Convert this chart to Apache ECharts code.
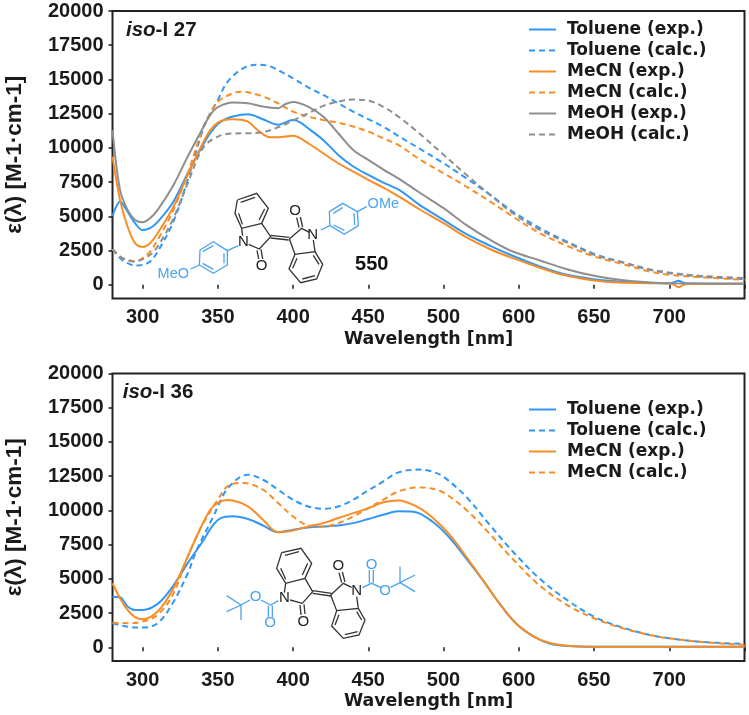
<!DOCTYPE html>
<html><head><meta charset="utf-8">
<style>html,body{margin:0;padding:0;background:#fff}#c{width:749px;height:715px}</style>
<script src="https://cdn.jsdelivr.net/npm/echarts@6/dist/echarts.min.js"></script></head>
<body><div id="c"></div>
<script>
// Axis ticks and the labels printed under them (the reference skips 550 in its labels)
const xTicks = [300,350,400,450,500,550,600,650,700];
const xTickLabels = ['300','350','400','450','500','600','650','700',''];
const yTicks = [0,2500,5000,7500,10000,12500,15000,17500,20000];
const legend27 = ['Toluene (exp.)','Toluene (calc.)','MeCN (exp.)','MeCN (calc.)','MeOH (exp.)','MeOH (calc.)'];
const legend36 = ['Toluene (exp.)','Toluene (calc.)','MeCN (exp.)','MeCN (calc.)'];

// iso-I 27
const tolExp27 = [[280,5000],[282,5600],[285,6080],[288,5700],[290,5350],[295,4500],[300,4000],[305,4140],[310,4600],[320,6000],[330,8150],[340,10200],[345,11100],[350,11750],[355,12100],[360,12300],[370,12450],[380,12090],[390,11700],[400,12040],[405,11850],[410,11430],[420,10580],[430,9490],[440,8640],[450,8030],[460,7470],[471,6900],[484,5840],[500,4740],[515,3720],[531,2850],[546,2120],[564,1340],[582,730],[600,410],[617,240],[637,150],[650,120],[653,180],[656,290],[659,180],[662,90],[699,70]];
const tolCalc27 = [[280,2600],[285,1950],[290,1580],[295,1410],[300,1460],[305,1700],[310,2430],[320,4500],[330,7660],[340,11310],[345,12530],[350,13500],[355,14600],[360,15250],[365,15690],[370,15980],[378,16080],[385,15950],[390,15690],[400,15080],[410,14430],[420,13870],[430,13260],[440,12650],[450,12100],[460,11550],[471,10800],[484,9950],[500,8880],[515,7790],[531,6570],[546,5350],[564,4140],[582,3160],[600,2260],[617,1700],[637,1090],[650,850],[670,610],[700,410]];
const mecnExp27 = [[280,9370],[285,6200],[290,4260],[295,3040],[300,2770],[305,3040],[310,3770],[320,5600],[330,8030],[340,10340],[345,11300],[350,11850],[355,12050],[360,12090],[370,11920],[375,11440],[380,11000],[385,10780],[390,10780],[400,10880],[410,10340],[420,9610],[430,8880],[440,8270],[450,7660],[460,7100],[471,6400],[484,5520],[500,4500],[515,3480],[531,2600],[546,1950],[564,1250],[579,730],[600,320],[617,170],[637,120],[650,100],[653,20],[656,-170],[659,-20],[662,60],[699,70]];
const mecnCalc27 = [[280,2600],[285,2070],[290,1820],[295,1700],[300,1950],[305,2430],[310,3280],[320,5350],[330,8150],[340,11440],[345,12530],[350,13380],[360,13990],[365,14110],[370,14060],[380,13750],[390,13260],[400,12650],[410,12290],[420,12040],[430,11850],[440,11560],[450,11190],[460,10700],[471,10150],[484,9170],[500,8150],[515,7180],[531,6080],[546,4990],[564,3770],[582,2850],[600,2070],[617,1580],[637,970],[650,730],[670,560],[700,365]];
const meohExp27 = [[280,11300],[285,6930],[290,5470],[295,4740],[300,4570],[305,4870],[310,5470],[320,7180],[330,9370],[340,11440],[345,12410],[350,12970],[360,13310],[370,13260],[380,13020],[390,12900],[395,13210],[400,13360],[410,13020],[420,12290],[430,11070],[440,9850],[450,9120],[460,8420],[471,7700],[484,6740],[500,5600],[515,4380],[531,3280],[546,2430],[564,1780],[582,1140],[600,660],[617,365],[637,170],[650,120],[699,70]];
const meohCalc27 = [[280,2600],[285,2070],[290,1780],[295,1700],[300,1870],[305,2190],[310,2800],[320,4740],[330,7420],[340,9980],[350,10830],[360,11050],[370,11070],[380,11140],[390,11510],[400,12000],[410,12530],[420,13070],[430,13380],[440,13530],[450,13450],[460,13000],[471,12200],[484,11050],[500,9500],[515,8050],[531,6570],[546,5230],[564,4010],[582,3090],[600,2190],[617,1700],[637,1140],[650,900],[670,660],[700,490]];

// iso-I 36
const tolExp36 = [[280,3700],[285,3660],[290,2980],[295,2730],[300,2730],[310,3170],[320,4440],[330,6150],[340,7750],[345,8650],[350,9300],[355,9540],[360,9570],[370,9370],[380,8900],[390,8410],[400,8590],[410,8760],[420,8830],[430,8900],[440,9070],[450,9370],[460,9680],[470,9930],[480,9900],[493,9150],[504,8000],[515,6500],[526,4930],[537,3220],[548,1760],[560,780],[571,260],[582,100],[600,50],[700,50]];
const tolCalc36 = [[280,1760],[290,1510],[300,1440],[310,1760],[320,3220],[330,5410],[336,7120],[347,9560],[350,10290],[355,11390],[360,12000],[365,12450],[370,12610],[380,12240],[390,11510],[400,10780],[410,10290],[420,10120],[430,10290],[440,10780],[450,11460],[460,12120],[470,12780],[484,12980],[492,12850],[500,12450],[515,11000],[531,8900],[546,7000],[564,5000],[582,3460],[600,2240],[617,1510],[637,900],[650,660],[670,410],[700,240]];
const mecnExp36 = [[280,4680],[285,3590],[290,2730],[295,2200],[300,2050],[310,2610],[320,4200],[330,6630],[338,8590],[345,10050],[350,10550],[356,10760],[360,10730],[370,10290],[380,9320],[390,8410],[400,8540],[410,8830],[420,9070],[430,9440],[440,9800],[450,10170],[460,10590],[470,10730],[482,10290],[493,9440],[504,8220],[515,6630],[526,4930],[537,3220],[548,1760],[560,780],[571,290],[582,120],[600,50],[700,50]];
const mecnCalc36 = [[280,1800],[290,1760],[300,1880],[310,2370],[320,3830],[330,6630],[338,8590],[347,10290],[350,10780],[355,11630],[360,11950],[367,12000],[380,11510],[390,10540],[400,9560],[410,8900],[420,8830],[430,9070],[440,9560],[450,10170],[460,10780],[470,11390],[484,11680],[492,11600],[500,11300],[515,10050],[531,8250],[546,6450],[564,4500],[582,3100],[600,2120],[617,1460],[637,900],[650,660],[670,410],[700,170]];

const BLUE='#2F97F7', ORANGE='#FA8C25', GREY='#8E8E8E';
const INK='#1a1a1a', BOND='#333333', CHEMBLUE='#4BA3F2';
const ARIAL='"Liberation Sans",Arial,sans-serif', DEJAVU='"DejaVu Sans",sans-serif';

function line(name,data,color,dashed,idx){
  return {name,type:'line',data,xAxisIndex:idx,yAxisIndex:idx,symbol:'none',smooth:0.35,z:3,
    lineStyle:{color,width:2,type:dashed?[6,4]:'solid'},itemStyle:{color},emphasis:{disabled:true}};
}
function xAxis(i){return {gridIndex:i,type:'value',min:280,max:700,
  name:'Wavelength [nm]',nameLocation:'middle',nameGap:32,
  nameTextStyle:{fontFamily:DEJAVU,fontWeight:'bold',fontSize:17.4,color:INK},
  axisLine:{show:false},splitLine:{show:false},
  axisTick:{show:true,length:4,customValues:xTicks,lineStyle:{color:INK,width:1.5}},
  axisLabel:{customValues:xTicks,margin:9,fontFamily:ARIAL,fontWeight:'bold',fontSize:20,color:INK,
    formatter:v=>xTickLabels[xTicks.indexOf(v)]}};}
function yAxis(i){return {gridIndex:i,type:'value',min:-1000,max:20000,
  name:'ε(λ) [M-1·cm-1]',nameLocation:'middle',nameGap:86,nameRotate:90,
  nameTextStyle:{fontFamily:ARIAL,fontWeight:'bold',fontSize:22.5,color:INK},
  axisLine:{show:false},splitLine:{show:false},
  axisTick:{show:true,length:4,customValues:yTicks,lineStyle:{color:INK,width:1.5}},
  axisLabel:{customValues:yTicks,margin:9,fontFamily:ARIAL,fontWeight:'bold',fontSize:20,color:INK,
    formatter:v=>String(v)}};}
function legend(data,top){return {data,orient:'vertical',left:528,top,itemWidth:27,itemHeight:14,itemGap:4,
  selectedMode:false,padding:0,itemStyle:{color:'transparent',borderWidth:0},
  textStyle:{fontFamily:DEJAVU,fontWeight:'bold',fontSize:17,color:INK,padding:[0,0,0,6]}};}

// Structure drawings: bond paths in each crop's local units, mapped to the page
function bonds(list,ox,oy,color,z){return list.map(p=>({type:'polyline',silent:true,z:z||6,
  shape:{points:p.map(q=>[ox+q[0]/3,oy+q[1]/3])},style:{stroke:color,lineWidth:1.3,fill:null}}));}
function label(t,x,y,color,size,weight){return {type:'text',silent:true,z:7,x,y,
  style:{text:t,fill:color,font:(weight||'normal')+' '+size+'px '+ARIAL,align:'center',verticalAlign:'middle'}};}
function atoms(list,ox,oy,color,size){return list.map(a=>label(a[0],ox+a[1]/3,oy+a[2]/3,color,size));}

const m1x=150,m1y=185;
const black27=[
 [[262,45],[320,25],[355,70],[335,115],[275,130],[255,85],[262,45]],[[272,52],[315,37]],[[344,72],[327,105]],[[277,118],[266,85]],
 [[335,115],[362,155],[328,192],[296,178]],[[275,130],[278,152]],
 [[321,196],[326,222]],[[333,193],[338,222]],
 [[362,151],[418,157]],[[362,159],[416,165]],
 [[418,162],[455,130],[478,142]],[[490,165],[495,200],[435,208],[418,162]],
 [[447,128],[440,98]],[[458,126],[451,96]],
 [[435,208],[417,252],[452,293],[500,282],[518,238],[495,200]],[[428,250],[441,220]],[[457,282],[495,272]],[[507,238],[490,211]]];
const blue27=[
 [[265,182],[232,197],[190,170],[150,195],[148,240],[190,265],[232,240],[232,197]],[[190,182],[158,200]],[[158,235],[190,253]],[[222,235],[222,205]],
 [[148,240],[122,252]],
 [[512,135],[540,122],[538,80],[578,55],[622,80],[625,122],[583,148],[540,122]],[[550,85],[578,68]],[[612,85],[614,120]],[[550,120],[583,136]],
 [[622,80],[650,65]]];

const m2x=215,m2y=540;
const black36=[
 [[200,38],[258,25],[290,70],[270,115],[212,130],[185,85],[200,38]],[[210,46],[252,35]],[[278,70],[262,105]],[[212,118],[197,85]],
 [[270,115],[293,155],[262,190],[225,180]],[[212,130],[208,158]],
 [[255,195],[258,225]],[[267,193],[270,222]],
 [[293,152],[350,160]],[[293,160],[348,168]],
 [[347,165],[385,130],[410,142]],[[425,170],[430,205],[365,212],[347,165]],
 [[380,128],[372,98]],[[390,126],[382,96]],
 [[365,212],[350,258],[385,295],[432,285],[450,240],[430,205]],[[360,255],[372,224]],[[390,284],[428,275]],[[440,240],[425,215]]];
const blue36=[
 [[190,182],[167,195],[138,180]],[[160,197],[160,232]],[[172,197],[172,232]],
 [[105,180],[78,195]],[[78,195],[35,167]],[[78,195],[35,215]],[[78,195],[78,240]],
 [[442,143],[470,130],[498,143]],[[463,130],[463,90]],[[475,128],[475,90]],
 [[527,142],[555,128]],[[555,128],[555,80]],[[555,128],[600,105]],[[555,128],[600,155]]];

function title(parts,x,y){return {type:'text',silent:true,z:7,x,y,style:{
  text:parts,align:'left',verticalAlign:'middle',rich:{
   i:{font:'italic bold 20.5px '+ARIAL,fill:INK},b:{font:'bold 20.5px '+ARIAL,fill:INK}}}};}

const graphic=[
 title('{i|iso}{b|-I 27}',126,30),title('{i|iso}{b|-I 36}',122.7,392),
 ...bonds(black27,m1x,m1y,BOND),...bonds(blue27,m1x,m1y,CHEMBLUE),
 ...atoms([['N',280,170],['O',335,242],['O',435,78],['N',488,150]],m1x,m1y,'#222',15),
 ...atoms([['MeO',70,267],['OMe',700,57]],m1x,m1y,CHEMBLUE,14.5),
 label('550',371.7,264.3,'#111',20,'bold'),
 ...bonds(black36,m2x,m2y,BOND),...bonds(blue36,m2x,m2y,CHEMBLUE),
 ...atoms([['N',208,175],['O',265,247],['O',370,78],['N',425,152]],m2x,m2y,'#222',15),
 ...atoms([['O',165,248],['O',122,172],['O',470,75],['O',510,152]],m2x,m2y,CHEMBLUE,15)
];

const frame={show:true,borderColor:'#222',borderWidth:2,backgroundColor:'transparent',left:112.5,width:632,outerBoundsMode:'none'};
const chart=echarts.init(document.getElementById('c'),null,{renderer:'canvas'});
chart.setOption({
 animation:false,backgroundColor:'#fff',
 grid:[{...frame,top:11,height:287.5},{...frame,top:373.5,height:287.5}],
 xAxis:[xAxis(0),xAxis(1)],yAxis:[yAxis(0),yAxis(1)],
 legend:[legend(legend27,21),legend(legend36,401)],
 graphic,
 series:[
  line(legend27[0],tolExp27,BLUE,false,0),line(legend27[1],tolCalc27,BLUE,true,0),
  line(legend27[2],mecnExp27,ORANGE,false,0),line(legend27[3],mecnCalc27,ORANGE,true,0),
  line(legend27[4],meohExp27,GREY,false,0),line(legend27[5],meohCalc27,GREY,true,0),
  line(legend36[0],tolExp36,BLUE,false,1),line(legend36[1],tolCalc36,BLUE,true,1),
  line(legend36[2],mecnExp36,ORANGE,false,1),line(legend36[3],mecnCalc36,ORANGE,true,1)
 ]
});
</script></body></html>
